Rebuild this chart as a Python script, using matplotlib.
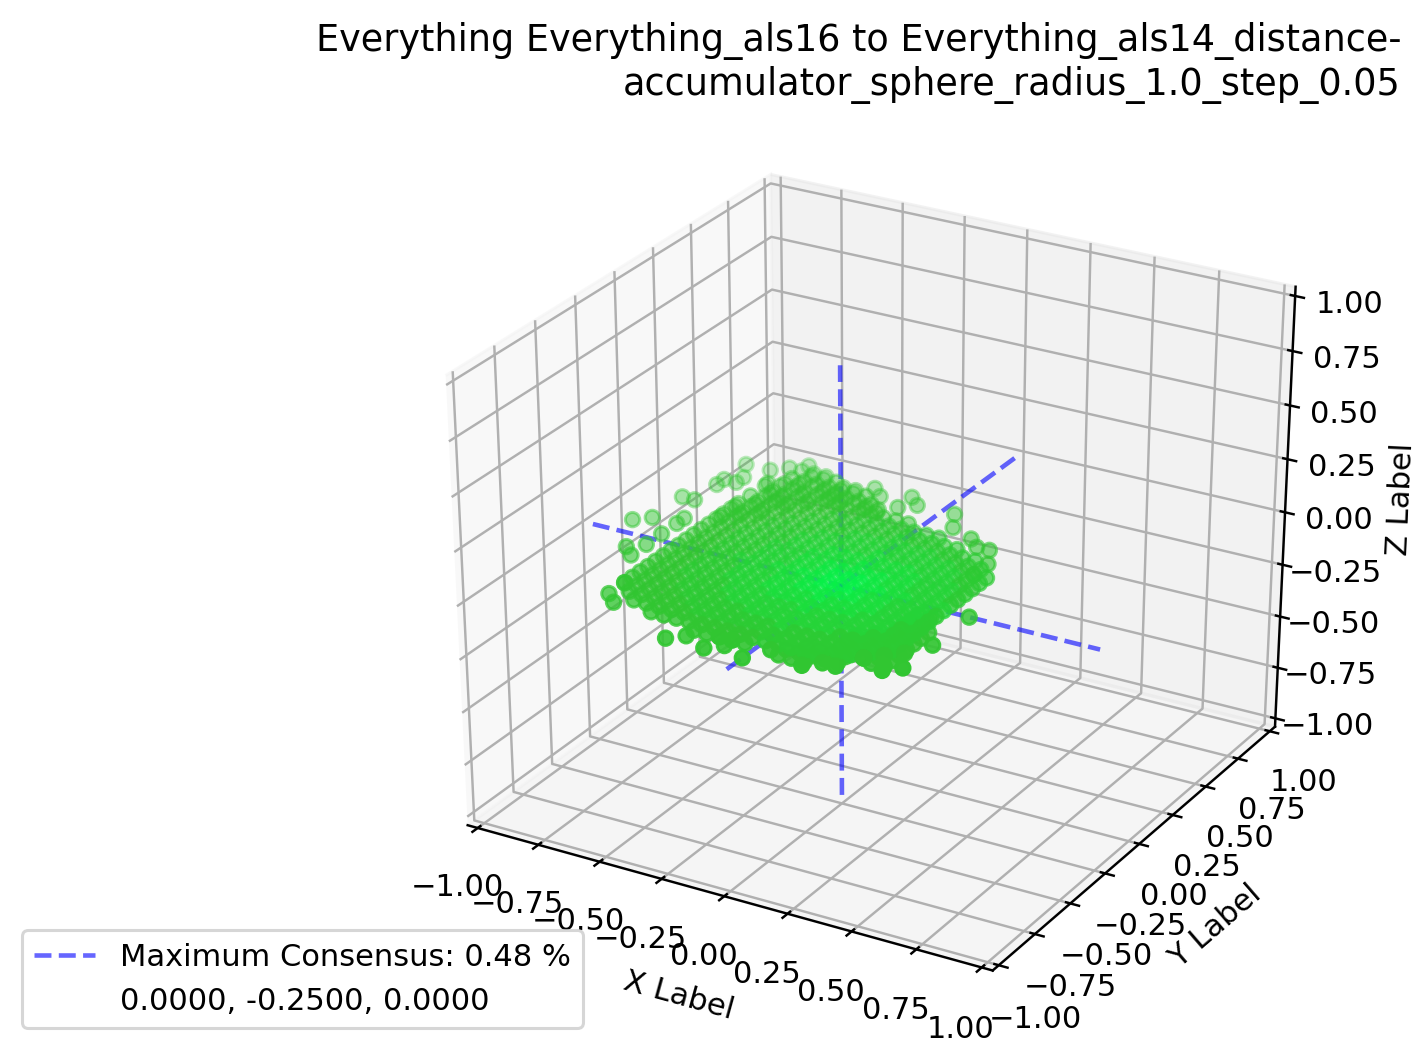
#!/usr/bin/env python3
import matplotlib
matplotlib.use('Agg')
import matplotlib.pyplot as plt

plt.rcParams['axes3d.automargin'] = True

# grid is 0.05 wide, positions below are in grid steps
step = 0.05
level_colors = ['#31c631', '#2ccb33', '#25d438', '#1bde3c', '#10e842', '#08f048']

rows_x = [-13, -12, -11, -10, -9, -8, -7, -6, -5, -4, -3, -2, -1, 0, 1, 2, 3, 4, 5, 6, 7, 8]
rows_y = [
    [-12, -11, -10, -9, -8, -7, -6, -5, -4, -3, -2, -1, 0, 1, 2, 3],
    [-13, -12, -11, -10, -9, -8, -7, -6, -5, -4, -3, -2, -1, 0, 1, 2, 3, 4, 5, 6, 7],
    [-14, -13, -12, -11, -10, -9, -8, -7, -6, -5, -4, -3, -2, -1, 0, 1, 2, 3, 4, 5, 6, 7, 8],
    [-14, -13, -12, -11, -10, -9, -8, -7, -6, -5, -4, -3, -2, -1, 0, 1, 2, 3, 4, 5, 6, 7, 8],
    [-15, -14, -13, -12, -11, -10, -9, -8, -7, -6, -5, -4, -3, -2, -1, 0, 1, 2, 3, 4, 5, 6, 7, 8],
    [-15, -14, -13, -12, -11, -10, -9, -8, -7, -6, -5, -4, -3, -2, -1, 0, 1, 2, 3, 4, 5, 6, 7, 8],
    [-15, -14, -13, -12, -11, -10, -9, -8, -7, -6, -5, -4, -3, -2, -1, 0, 1, 2, 3, 4, 5, 6, 7],
    [-15, -14, -13, -12, -11, -10, -9, -8, -7, -6, -5, -4, -3, -2, -1, 0, 1, 2, 3, 4, 5, 6, 7],
    [-16, -15, -14, -13, -12, -11, -10, -9, -8, -7, -6, -5, -4, -3, -2, -1, 0, 1, 2, 3, 4, 5, 6, 7],
    [-16, -15, -14, -13, -12, -11, -10, -9, -8, -7, -6, -5, -4, -3, -2, -1, 0, 1, 2, 3, 4, 5, 6, 7],
    [-16, -15, -14, -13, -12, -11, -10, -9, -8, -7, -6, -5, -4, -3, -2, -1, 0, 1, 2, 3, 4, 5, 6],
    [-16, -15, -14, -13, -12, -11, -10, -9, -8, -7, -6, -5, -4, -3, -2, -1, 0, 1, 2, 3, 4, 5, 6],
    [-16, -15, -14, -13, -12, -11, -10, -9, -8, -7, -6, -5, -4, -3, -2, -1, 0, 1, 2, 3, 4, 5, 6],
    [-15, -14, -13, -12, -11, -10, -9, -8, -7, -6, -5, -4, -3, -2, -1, 0, 1, 2, 3, 4, 5],
    [-15, -14, -13, -12, -11, -10, -9, -8, -7, -6, -5, -4, -3, -2, -1, 0, 1, 2, 3, 4, 5],
    [-15, -14, -13, -12, -11, -10, -9, -8, -7, -6, -5, -4, -3, -2, -1, 0, 1, 2, 3, 4, 5],
    [-15, -14, -13, -12, -11, -10, -9, -8, -7, -6, -5, -4, -3, -2, -1, 0, 1, 2, 3, 4],
    [-15, -14, -13, -12, -11, -10, -9, -8, -7, -6, -5, -4, -3, -2, -1, 0, 1, 2, 3, 4],
    [-14, -13, -12, -11, -10, -9, -8, -7, -6, -5, -4, -3, -2, -1, 0, 1, 2, 3],
    [-14, -13, -12, -11, -10, -9, -8, -7, -6, -5, -4, -3, -2, -1, 0, 1, 2, 3],
    [-14, -13, -12, -11, -10, -9, -8, -7, -6, -5, -4, -3, -2, -1, 0, 1, 2],
    [-13, -12, -11, -10, -9, -8, -7, -6, -5, -4, -3, -2, -1, 0, 1],
]
rows_level = [
    '0000000000000000',
    '000000000000000000000',
    '00000000000000000000000',
    '00000111111111000000000',
    '000011111111111110000000',
    '000111111121111111000000',
    '00111112222222111110000',
    '01111222222222221111000',
    '001112222223222222111000',
    '001112223333333222111100',
    '00112223333433332221110',
    '00112223344444332221110',
    '00112223345554332221110',
    '112223344555443322211',
    '111222334555433222111',
    '111222334444433222111',
    '11122233334333322211',
    '11112223333333222111',
    '111222222322222211',
    '111122222222222111',
    '01111122222221111',
    '011111112111111',
]

# stray points around the dense plate
stray_x = [-0.80, -0.80, -0.80, -0.75, -0.85, -0.80, -0.90, -0.85, -0.80, -0.75, -0.75, -0.75,
           -0.75, -0.75, -0.65, -0.70, -0.60, -0.60, -0.55, -0.50, -0.75, -0.65, -0.40, -0.35,
           -0.30, -0.25, -0.15, -0.10, -0.15, 0.05, 0.10, 0.20, 0.25, 0.30, 0.35, 0.35,
           -0.65, -0.60, -0.65, -0.30, -0.25, -0.15, -0.10, -0.15, -0.10, 0.00, 0.05, 0.20,
           0.50, 0.50, 0.45, 0.45, 0.50, 0.25, 0.30, 0.35]
stray_y = [0.45, 0.25, 0.30, 0.30, 0.10, 0.10, -0.15, -0.10, -0.35, -0.40, -0.30, -0.20,
           -0.10, -0.05, 0.50, 0.45, 0.50, 0.55, 0.50, 0.50, 0.35, 0.35, 0.45, 0.45,
           0.50, 0.45, 0.50, 0.45, 0.40, 0.45, 0.35, 0.30, 0.25, 0.25, 0.15, 0.05,
           -0.70, -0.75, -0.60, -0.90, -0.85, -0.90, -0.85, -0.80, -0.80, -0.90, -0.80, -0.85,
           -0.25, -0.50, -0.60, -0.75, -0.70, -0.80, -0.80, -0.70]

# partial extra layers: lower one under the front edge, upper one on the far left edge
low_z = -0.05
low_x = [1, 1, 2, 2, 2, 3, 3, 3, 4, 4, 4, 4, 4, 5, 5, 5, 5, 5, 5, 6, 6, 6, 6, 6, 6, 6, 6,
         7, 7, 7, 7, 7, 7, 7, 7, 7, 8, 8, 8, 8, 8, 8, 8]
low_y = [-15, -14, -15, -14, -13, -15, -14, -13, -14, -13, -12, -11, -10, -14, -13, -12, -11, -10, -9,
         -12, -11, -10, -9, -8, -7, -6, -5,
         -13, -12, -11, -10, -9, -8, -7, -6, -5, -13, -12, -11, -10, -9, -8, -7]
high_z = 0.05
high_x = [-12, -12, -12, -12, -11, -11, -11, -11, -11, -10, -10, -10, -10, -10, -10,
          -9, -9, -9, -9, -8, -8, -8, -8, -7, -7, -7, -6, -6, -6, -5, -5, -4, -4, -3]
high_y = [-1, 1, 3, 5, 0, 2, 4, 6, 7, 1, 3, 4, 6, 7, 8,
          3, 5, 7, 8, 4, 6, 7, 8, 5, 6, 7, 5, 6, 7, 6, 7, 5, 6, 5]

best = (0.0, -0.25, 0.0)
radius = 1.0
ticks = [-1.0, -0.75, -0.5, -0.25, 0.0, 0.25, 0.5, 0.75, 1.0]
title = 'Everything Everything_als16 to Everything_als14_distance-\naccumulator_sphere_radius_1.0_step_0.05'

xs, ys, zs, cs = [], [], [], []
for rx, row, lev in zip(rows_x, rows_y, rows_level):
    for ry, l in zip(row, lev):
        xs.append(rx * step)
        ys.append(ry * step)
        zs.append(0.0)
        cs.append(level_colors[int(l)])
xs += stray_x
ys += stray_y
zs += [0.0] * len(stray_x)
cs += [level_colors[0]] * len(stray_x)
for lx, ly, lz in [(low_x, low_y, low_z), (high_x, high_y, high_z)]:
    for px, py in zip(lx, ly):
        xs.append(px * step)
        ys.append(py * step)
        zs.append(lz)
        cs.append(level_colors[0])

W, H = 1423, 1049
fig = plt.figure(figsize=(W / 220, H / 220), dpi=220)
ax_w, ax_h = 1091, 924
ax = fig.add_axes([(863 - ax_w / 2) / W, (H - 571 - ax_h / 2) / H, ax_w / W, ax_h / H], projection='3d')
# old style 3d box: cube stretched to the full axes rectangle
ax.set_box_aspect((1, 1, 1), zoom=0.934)
ax.apply_aspect = lambda position=None: None

ax.scatter(xs, ys, zs, c=cs, s=22)

blue = (0, 0, 1, 0.6)
ax.plot([best[0] - radius, best[0] + radius], [best[1], best[1]], [best[2], best[2]], '--', color=blue,
        label='Maximum Consensus: %.2f %%' % 0.48)
ax.plot([best[0], best[0]], [-radius, radius], [best[2], best[2]], '--', color=blue)
ax.plot([best[0], best[0]], [best[1], best[1]], [-radius, radius], '--', color=blue)
ax.plot([], [], ' ', label='%.4f, %.4f, %.4f' % best)

ax.set_xlim(-1, 1)
ax.set_ylim(-1, 1)
ax.set_zlim(-1, 1)
ax.set_xticks(ticks)
ax.set_yticks(ticks)
ax.set_zticks(ticks)
ax.set_xlabel('X Label')
ax.set_ylabel('Y Label')
ax.set_zlabel('Z Label')

fig.text(1401 / W, 1 - 22 / H, title, ha='right', va='top', fontsize=12)
ax.legend(loc='lower left', bbox_to_anchor=(22 / W, 21 / H), bbox_transform=fig.transFigure, borderaxespad=0)

fig.savefig('out.png', dpi=220)
